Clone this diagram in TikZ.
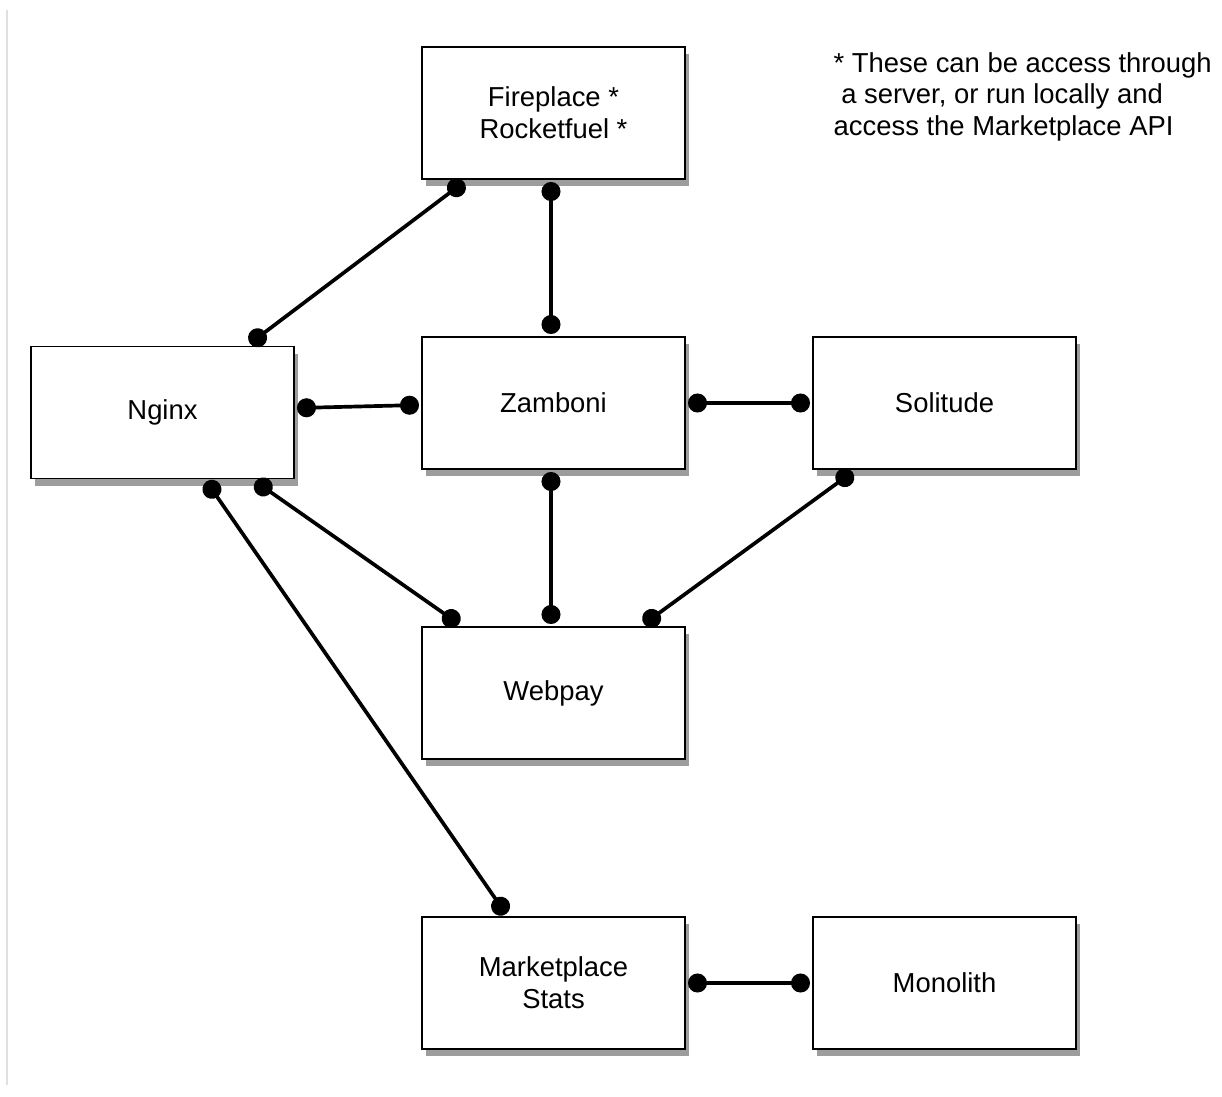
\documentclass[tikz,border=0pt]{standalone}
\usepackage{fontspec}
\setmainfont{Liberation Sans}
\usepackage{tikz}
\usetikzlibrary{positioning,arrows.meta,shadows}

\begin{document}
\begin{tikzpicture}[
    service/.style={draw, line width=1.1pt, fill=white, minimum width=5.26cm, minimum height=2.64cm,
      align=center, font=\fontsize{15.6pt}{18pt}\selectfont, outer sep=0.06cm,
      drop shadow={shadow xshift=0.07cm, shadow yshift=-0.14cm, opacity=0.55, fill=black!70}},
    link/.style={line width=2.1pt, {Circle[length=0.38cm]}-{Circle[length=0.38cm]}}
  ]
  \useasboundingbox (0,0) rectangle (24.44,-21.94);
  \draw[black!12, line width=1.2pt] (0.14,-0.2) -- (0.14,-21.7);

  \node[service] (fireplace) at (11.07,-2.26) {Fireplace *\\Rocketfuel *};
  \node[service] (nginx) at (3.25,-8.25) {Nginx};
  \node[service] (zamboni) at (11.07,-8.06) {Zamboni};
  \node[service] (solitude) at (18.89,-8.06) {Solitude};
  \node[service] (webpay) at (11.07,-13.86) {Webpay};
  \node[service] (stats) at (11.07,-19.66) {Marketplace\\Stats};
  \node[service] (monolith) at (18.89,-19.66) {Monolith};

  \node[anchor=north west, align=left, font=\fontsize{15.6pt}{18pt}\selectfont] (note) at (16.55,-0.92)
    {* These can be access through\\\ a server, or run locally and\\access the Marketplace API};

  \draw[link] ([xshift=-1.79cm]fireplace.south) -- ([xshift=1.75cm]nginx.north);
  \draw[link] ([xshift=-0.05cm]fireplace.south) -- ([xshift=-0.05cm]zamboni.north);
  \draw[link] ([yshift=0.09cm]nginx.east) -- ([yshift=-0.04cm]zamboni.west);
  \draw[link] (zamboni.east) -- (solitude.west);
  \draw[link] ([xshift=1.86cm]nginx.south) -- ([xshift=-1.89cm]webpay.north);
  \draw[link] ([xshift=-0.05cm]zamboni.south) -- ([xshift=-0.05cm]webpay.north);
  \draw[link] ([xshift=-1.84cm]solitude.south) -- ([xshift=1.81cm]webpay.north);
  \draw[link] ([xshift=0.88cm]nginx.south) -- ([xshift=-0.95cm]stats.north);
  \draw[link] (stats.east) -- (monolith.west);
\end{tikzpicture}
\end{document}
